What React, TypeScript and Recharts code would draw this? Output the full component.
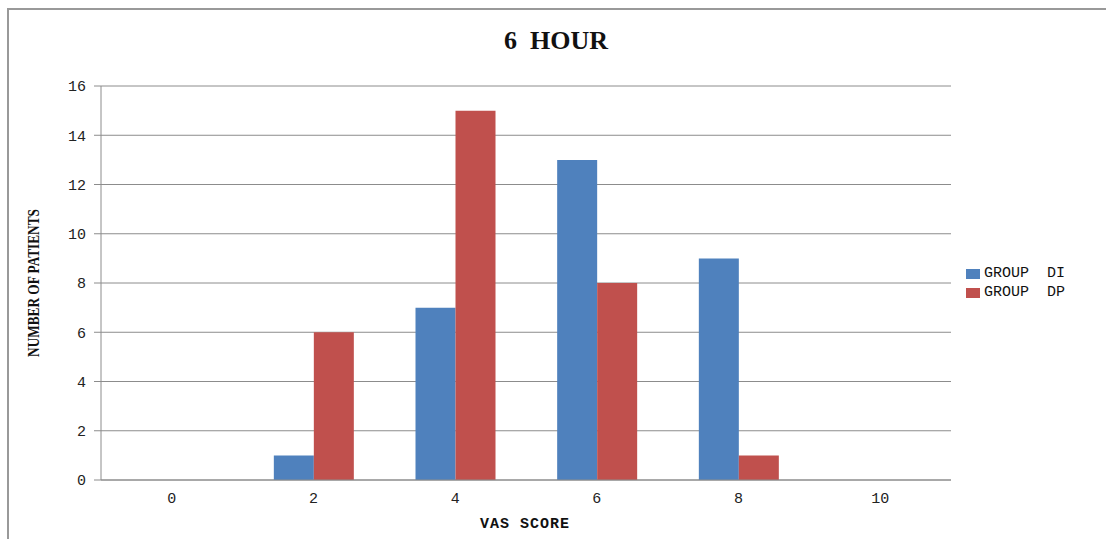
import { BarChart, Bar, XAxis, YAxis, CartesianGrid } from 'recharts'

// ─── data ──────────────────────────────────────────────────────────────────
const vasScores = ['0', '2', '4', '6', '8', '10']
const groupDI = [0, 1, 7, 13, 9, 0]
const groupDP = [0, 6, 15, 8, 1, 0]
const yTicks = [0, 2, 4, 6, 8, 10, 12, 14, 16]

const seriesNames = ['GROUP  DI', 'GROUP  DP']
const seriesColors = ['#4F81BD', '#C0504D']

const data = vasScores.map((s, i) => ({ name: s, di: groupDI[i], dp: groupDP[i] }))

const GRID = '#8c8c8c'
const TICK_FONT = { fontFamily: '"Liberation Mono", monospace', fontSize: 15, fill: '#222' }

// legend drawn as plain html so it doesn't eat into the plot area
function LegendBox() {
  return (
    <div
      style={{
        position: 'absolute',
        left: 966,
        top: 264,
        fontFamily: '"Liberation Mono", monospace',
        fontSize: 15,
        color: '#111',
      }}
    >
      {seriesNames.map((n, i) => (
        <div key={n} style={{ display: 'flex', alignItems: 'center', height: 19, whiteSpace: 'pre' }}>
          <span
            style={{
              display: 'inline-block',
              width: 14,
              height: 10,
              background: seriesColors[i],
              marginRight: 4,
            }}
          />
          {n}
        </div>
      ))}
    </div>
  )
}

export default function App() {
  return (
    <div style={{ position: 'absolute', left: 0, top: 0, width: 1106, height: 539, background: '#fff', overflow: 'hidden' }}>
      {/* outer frame */}
      <div
        style={{
          position: 'absolute',
          left: 7,
          top: 8,
          width: 1120,
          height: 560,
          borderLeft: '2px solid #999',
          borderTop: '2px solid #999',
        }}
      />
      <div
        style={{
          position: 'absolute',
          left: 0,
          width: 1112,
          top: 26,
          textAlign: 'center',
          fontFamily: '"Liberation Serif", serif',
          fontWeight: 'bold',
          fontSize: 26,
          color: '#111',
        }}
      >
        6&nbsp;&nbsp;HOUR
      </div>
      <div
        style={{
          position: 'absolute',
          left: 34,
          top: 283,
          transform: 'translate(-50%, -50%) rotate(-90deg) scaleX(0.78)',
          whiteSpace: 'nowrap',
          fontFamily: '"Liberation Serif", serif',
          fontWeight: 'bold',
          fontSize: 17,
          color: '#111',
        }}
      >
        NUMBER OF PATIENTS
      </div>
      <div
        style={{
          position: 'absolute',
          left: 525,
          top: 524,
          transform: 'translate(-50%, -50%)',
          whiteSpace: 'nowrap',
          fontFamily: '"Liberation Mono", monospace',
          fontWeight: 'bold',
          fontSize: 15,
          letterSpacing: 1,
          color: '#111',
        }}
      >
        VAS SCORE
      </div>
      <div style={{ position: 'absolute', left: 0, top: 0 }}>
        <BarChart
          width={1106}
          height={539}
          data={data}
          margin={{ top: 86, right: 155, left: 41, bottom: 29 }}
          barGap={0}
          barCategoryGap="22%"
        >
          <CartesianGrid vertical={false} stroke={GRID} strokeWidth={1} />
          <XAxis
            dataKey="name"
            height={30}
            axisLine={{ stroke: GRID }}
            tickLine={false}
            tick={TICK_FONT}
            tickMargin={6}
          />
          <YAxis
            width={60}
            domain={[0, 16]}
            ticks={yTicks}
            interval={0}
            axisLine={{ stroke: GRID }}
            tickLine={{ stroke: GRID }}
            tickSize={7}
            tick={TICK_FONT}
            tickMargin={8}
          />
          <Bar dataKey="di" name={seriesNames[0]} fill={seriesColors[0]} isAnimationActive={false} />
          <Bar dataKey="dp" name={seriesNames[1]} fill={seriesColors[1]} isAnimationActive={false} />
        </BarChart>
      </div>
      <LegendBox />
    </div>
  )
}
